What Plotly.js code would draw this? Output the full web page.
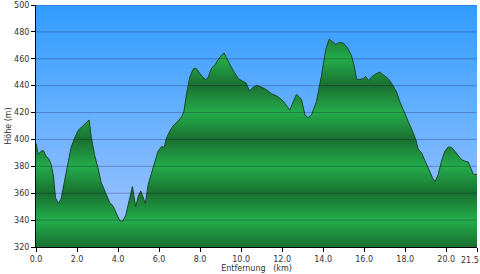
<!DOCTYPE html>
<html>
<head>
<meta charset="utf-8">
<script src="https://cdn.plot.ly/plotly-3.0.1.min.js"></script>
<style>html,body{margin:0;padding:0;background:#fff;}#chart{width:480px;height:274px;}</style>
</head>
<body>
<div id="chart"></div>
<script>
// Distance (km)
const distanceKm = [0,0.11,0.24,0.36,0.49,0.62,0.73,0.85,0.95,1.08,1.22,1.39,1.55,1.71,1.88,2.07,2.28,2.48,2.59,2.69,2.85,3.02,3.18,3.39,3.59,3.75,3.92,4.08,4.21,4.37,4.54,4.70,4.86,4.99,5.11,5.22,5.33,5.47,5.63,5.79,5.95,6.12,6.25,6.36,6.53,6.72,6.93,7.10,7.21,7.34,7.50,7.67,7.80,7.96,8.12,8.29,8.40,8.56,8.73,8.89,9.05,9.17,9.30,9.46,9.66,9.87,10.08,10.24,10.41,10.60,10.77,11.15,11.48,11.80,12.05,12.21,12.37,12.54,12.70,12.94,13.11,13.27,13.43,13.67,13.92,14.13,14.29,14.46,14.62,14.78,14.98,15.17,15.38,15.51,15.63,15.79,15.95,16.07,16.20,16.36,16.57,16.76,16.96,17.17,17.38,17.58,17.74,17.93,18.15,18.36,18.52,18.63,18.80,18.96,19.12,19.33,19.46,19.61,19.77,19.93,20.10,20.26,20.42,20.59,20.75,20.91,21.07,21.19,21.32,21.5];
// Elevation (m)
const elevationM = [397,388.7,391.2,391.7,387.5,385.8,381.8,372.8,356.8,352.4,355.6,369.1,383.8,394.1,401,407.1,410,412.8,414.5,402.2,388.7,378.9,367.9,360.5,353.1,350.7,344.5,339.6,339.1,343.3,354.4,364.9,349.9,358,361.7,357.3,352.4,366.6,375.2,383.8,391.2,394.8,394.1,401,406.4,410.8,413.7,416.9,420.6,434.1,446.4,452.5,453,449.6,446.4,444.4,446.4,453,455.5,459.4,462.8,464.3,459.9,455.5,450.1,445.2,443.2,442,436.1,439,440.2,437.8,434.1,431.7,428.5,425.5,421.8,428,433.6,429.9,418.2,416.2,418.2,428,447.6,467.2,474.6,472.6,470.7,472.1,471.7,468.5,462.3,455,444.7,444.7,445.2,446.9,443.9,446.4,448.8,450.1,447.6,445.2,440.7,435.3,428,420.6,413.3,405.9,399.8,392.9,390,384.3,378.9,371.5,368.6,374,383.8,391.2,394.4,394.1,391.2,388,385,383.8,383.3,378.9,374,374];
// Axis ticks
const xTickVals = [0,2,4,6,8,10,12,14,16,18,20,21.5];
const xTickText = ["0.0","2.0","4.0","6.0","8.0","10.0","12.0","14.0","16.0","18.0","20.0","21.5"];
const yTickVals = [320,340,360,380,400,420,440,460,480,500];
const yMin = 320, yMax = 500, xMax = 21.5;

// the last x label is drawn right-aligned at the end of the axis so it stays inside the picture
const lastIdx = xTickVals.length - 1;
const axisTickText = xTickText.map((t, i) => i === lastIdx ? '' : t);

// banded green colorscale: dark at every 40 m, light in between
const dark = 'rgb(25,112,48)', light = 'rgb(36,172,76)';
const greenScale = [];
for (let v = yMin; v <= yMax; v += 20) {
  const f = (v - yMin) / (yMax - yMin);
  greenScale.push([f, ((v - yMin) / 20) % 2 === 0 ? dark : light]);
}

const bg = {
  x: [0, xMax], y: [yMax, yMax], type: 'scatter', mode: 'none',
  fill: 'tozeroy', hoverinfo: 'skip', showlegend: false,
  fillgradient: {type: 'vertical', start: yMin, stop: yMax,
    colorscale: [[0, 'rgb(168,198,255)'], [0.5, 'rgb(108,178,255)'], [1, 'rgb(50,156,255)']]}
};
const profile = {
  x: distanceKm, y: elevationM, type: 'scatter', mode: 'lines',
  line: {color: 'rgb(25,70,40)', width: 1},
  fill: 'tozeroy', showlegend: false,
  fillgradient: {type: 'vertical', start: yMin, stop: yMax, colorscale: greenScale}
};

const shapes = yTickVals.filter(v => v > yMin).map(v => ({
  type: 'line', xref: 'paper', x0: 0, x1: 1, yref: 'y', y0: v, y1: v,
  line: {color: 'rgba(0,0,40,0.26)', width: 1}, layer: 'above'
}));

const font = {family: 'DejaVu Sans, Verdana, sans-serif', size: 8, color: '#333'};
const layout = {
  width: 480, height: 274,
  margin: {l: 36, r: 3, t: 5, b: 27},
  paper_bgcolor: '#fff', plot_bgcolor: '#fff',
  font: font, showlegend: false, shapes: shapes,
  annotations: [{
    x: xTickVals[lastIdx], xref: 'x', y: 0, yref: 'paper',
    text: xTickText[lastIdx], showarrow: false, font: font,
    xanchor: 'right', yanchor: 'top', xshift: 3, yshift: -8, borderpad: 0
  }],
  xaxis: {range: [0, xMax], tickvals: xTickVals, ticktext: axisTickText,
    showgrid: false, zeroline: false, showline: true, linecolor: '#000', linewidth: 1,
    ticks: 'outside', ticklen: 4, tickcolor: '#000', tickfont: font,
    title: {text: 'Entfernung\u00a0\u00a0\u00a0(km)', font: font, standoff: 2}, layer: 'above traces'},
  yaxis: {range: [yMin, yMax], tickvals: yTickVals,
    showgrid: false, zeroline: false, showline: true, linecolor: '#000', linewidth: 1,
    ticks: 'outside', ticklen: 4, tickcolor: '#000', tickfont: font,
    title: {text: 'Höhe (m)', font: font, standoff: 1}, layer: 'above traces'}
};
Plotly.newPlot('chart', [bg, profile], layout, {displayModeBar: false, staticPlot: true});
</script>
</body>
</html>
